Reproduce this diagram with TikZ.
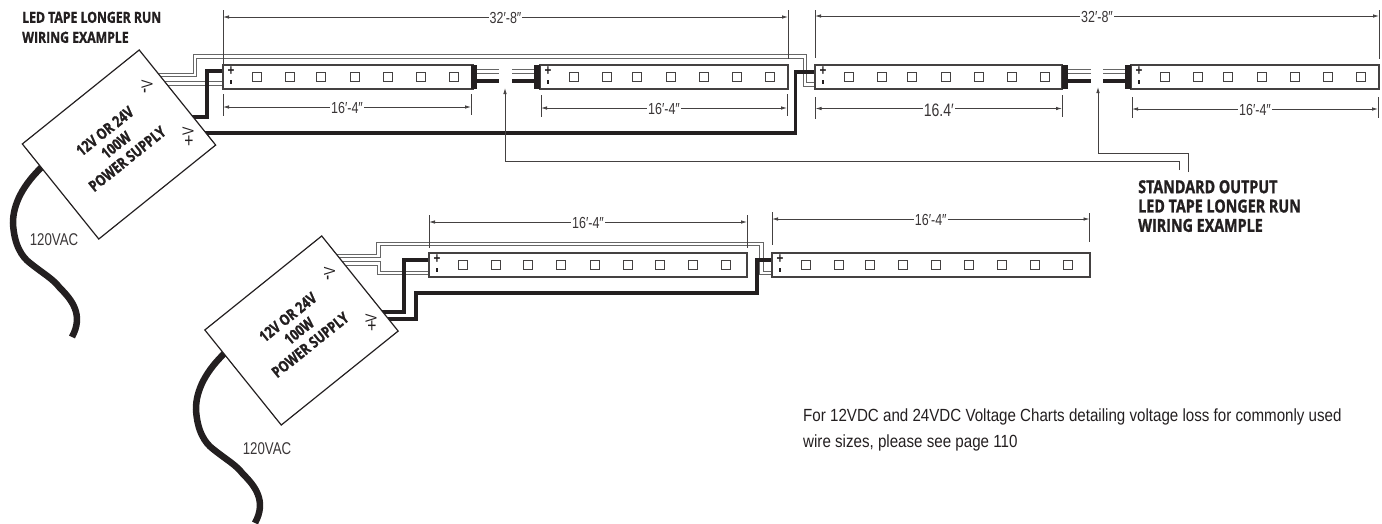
\documentclass[tikz,border=0pt]{standalone}
\usepackage{fontspec}
\usetikzlibrary{arrows.meta,calc}
\newfontfamily\lightf[FakeStretch=0.78]{Liberation Sans}
\newfontfamily\notef[FakeStretch=0.86]{Liberation Sans}
\newfontfamily\headf[FakeStretch=0.8,FakeBold=1.2]{Open Sans}
\definecolor{ink}{HTML}{231F20}
\definecolor{wiregray}{HTML}{666666}
\tikzset{
  x=1pt,y=-1pt,
  strip/.style={draw=ink!85,line width=1.2pt,fill=white,minimum height=24pt,inner sep=0pt,outer sep=0pt},
  led/.style={draw=ink!85,line width=1.1pt,minimum size=9.2pt,inner sep=0pt,outer sep=0pt},
  plusm/.style={font=\lightf\bfseries\fontsize{15}{15}\selectfont,text=ink,inner sep=0pt},
  minusm/.style={draw=none,fill=ink,minimum width=1.4pt,minimum height=3.6pt,inner sep=0pt},
  supply/.style={draw=ink,line width=1.2pt,fill=white,rotate=38.8,minimum width=150pt,minimum height=122pt,inner sep=0pt,outer sep=0pt},
  supplytext/.style={rotate=38.8,align=center,text=ink,inner sep=0pt,font=\headf\bfseries\fontsize{15.4}{17.8}\selectfont},
  blackwire/.style={draw=ink,line width=3.8pt,miter limit=10},
  cable/.style={draw=ink,line width=6.5pt},
  wireout/.style={draw=wiregray,line width=4.4pt},
  wirein/.style={draw=white,line width=2.4pt},
  plug/.style={fill=ink,draw=none,minimum width=6pt,minimum height=24pt,inner sep=0pt,outer sep=0pt},
  dimline/.style={draw=ink!85,line width=0.8pt,{Latex[length=6pt,width=3.5pt]}-{Latex[length=6pt,width=3.5pt]}},
  dimtick/.style={draw=ink!85,line width=0.8pt},
  dimtext/.style={fill=white,inner xsep=1pt,inner ysep=0pt,text=ink!90,font=\lightf\fontsize{16}{16}\selectfont},
  leader/.style={draw=ink!85,line width=0.8pt,-{Latex[length=6pt,width=3.5pt]}},
  headtext/.style={align=left,text=ink,inner sep=0pt,anchor=north west},
  voltv/.style={rotate=90,text=ink,inner sep=0pt,font=\lightf\fontsize{16}{16}\selectfont},
  voltm/.style={text=ink,inner sep=0pt,font=\lightf\fontsize{20}{20}\selectfont},
  vac/.style={text=ink!90,inner sep=0pt,font=\lightf\fontsize{17}{17}\selectfont},
}
\newcommand{\dimrun}[9]{%
  \coordinate (#1a) at (#2,#4);\coordinate (#1b) at (#3,#4);
  \coordinate (#1at) at (#2,#5);\coordinate (#1ab) at (#2,#6);
  \coordinate (#1bt) at (#3,#7);\coordinate (#1bb) at (#3,#8);
  \draw[dimtick] (#1at) -- (#1ab);
  \draw[dimtick] (#1bt) -- (#1bb);
  \draw[dimline] (#1a) -- (#1b);
  \node[dimtext] (#1l) at ($(#1a)!0.5!(#1b)+(0,#9)$)}
\newcommand{\ledrow}[3]{\foreach \lx [count=\li] in {#3} {\node[led] (#1led\li) at (\lx,#2) {};}}
\begin{document}
\begin{tikzpicture}
\path[use as bounding box] (0,0) rectangle (1382,523);

\coordinate (wa0) at (150,75); \coordinate (wa1) at (195,75); \coordinate (wa2) at (195,56.5);
\coordinate (wa3) at (805,56.5); \coordinate (wa4) at (805,84.5); \coordinate (wa5) at (816,84.5);
\coordinate (wb0) at (150,83.5); \coordinate (wb1) at (224,83.5);
\draw[wireout] (wa0) -- (wa1) -- (wa2) -- (wa3) -- (wa4) -- (wa5);
\draw[wirein] (wa0) -- (wa1) -- (wa2) -- (wa3) -- (wa4) -- (wa5);
\draw[wireout] (wb0) -- (wb1);
\draw[wirein] (wb0) -- (wb1);
\coordinate (ba0) at (180,117); \coordinate (ba1) at (207,117); \coordinate (ba2) at (207,71); \coordinate (ba3) at (224,71);
\draw[blackwire] (ba0) -- (ba1) -- (ba2) -- (ba3);
\coordinate (bb0) at (190,133); \coordinate (bb1) at (795.5,133); \coordinate (bb2) at (795.5,72); \coordinate (bb3) at (816,72);
\draw[blackwire] (bb0) -- (bb1) -- (bb2) -- (bb3);

\coordinate (wc0) at (330,256); \coordinate (wc1) at (378.5,256); \coordinate (wc2) at (378.5,244);
\coordinate (wc3) at (761.5,244); \coordinate (wc4) at (761.5,273); \coordinate (wc5) at (773,273);
\coordinate (wd0) at (330,263.5); \coordinate (wd1) at (379,263.5); \coordinate (wd2) at (379,272.7); \coordinate (wd3) at (430,272.7);
\draw[wireout] (wc0) -- (wc1) -- (wc2) -- (wc3) -- (wc4) -- (wc5);
\draw[wirein] (wc0) -- (wc1) -- (wc2) -- (wc3) -- (wc4) -- (wc5);
\draw[wireout] (wd0) -- (wd1) -- (wd2) -- (wd3);
\draw[wirein] (wd0) -- (wd1) -- (wd2) -- (wd3);
\coordinate (bc0) at (370,312); \coordinate (bc1) at (404,312); \coordinate (bc2) at (404,260); \coordinate (bc3) at (430,260);
\draw[blackwire] (bc0) -- (bc1) -- (bc2) -- (bc3);
\coordinate (bd0) at (375,319); \coordinate (bd1) at (416,319); \coordinate (bd2) at (416,293);
\coordinate (bd3) at (757,293); \coordinate (bd4) at (757,260); \coordinate (bd5) at (773,260);
\draw[blackwire] (bd0) -- (bd1) -- (bd2) -- (bd3) -- (bd4) -- (bd5);

\draw[cable] (45,164) .. controls (22,185) and (13,205) .. (13,223) .. controls (14,245) and (22,257) .. (30,263) .. controls (45,275) and (52,278) .. (60,288) .. controls (72,300) and (84,315) .. (72,337);
\begin{scope}
\clip (190,340) rectangle (300,523);
\draw[cable] (228,350) .. controls (205,371) and (196,391) .. (196,409) .. controls (197,431) and (205,443) .. (213,449) .. controls (228,461) and (235,464) .. (243,474) .. controls (255,486) and (267,501) .. (255,523);
\end{scope}

\node[supply] (psu1) at (119,144.5) {};
\node[supply] (psu2) at (301.5,330.5) {};
\node[supplytext] (psu1t) at (116,145) {12V OR 24V\\100W\\POWER SUPPLY};
\node[supplytext] (psu2t) at (299,331) {12V OR 24V\\100W\\POWER SUPPLY};
\node[voltv] (v1a) at (147,84.5) {V};
\node[voltm,rotate=90] (v1b) at (147,91) {-};
\node[voltv] (v1c) at (188,131) {V};
\node[voltm] (v1d) at (189,142) {+};
\node[voltv] (v2a) at (329.5,271) {V};
\node[voltm,rotate=90] (v2b) at (330,278) {-};
\node[voltv] (v2c) at (371,318) {V};
\node[voltm] (v2d) at (372,327) {+};

\node[strip,minimum width=250pt,anchor=west] (s1) at (223,77) {};
\node[strip,minimum width=248pt,anchor=west] (s2) at (540,77) {};
\node[strip,minimum width=247pt,anchor=west] (s3) at (815,77) {};
\node[strip,minimum width=248pt,anchor=west] (s4) at (1131,77) {};
\node[strip,minimum width=318pt,anchor=west] (s5) at (429,265) {};
\node[strip,minimum width=318pt,anchor=west] (s6) at (772,265) {};
\ledrow{s1}{77}{257,290,321,355,388,421,454}
\ledrow{s2}{77}{574,607,637,671,704,737,770}
\ledrow{s3}{77}{849,882,912,946,979,1012,1045}
\ledrow{s4}{77}{1165,1198,1228,1262,1295,1328,1361}
\ledrow{s5}{265}{463,496,528,561,595,628,660,693,726}
\ledrow{s6}{265}{806,839,870,903,936,969,1002,1035,1068}
\foreach \n/\px/\py in {s1/231/77,s2/548/77,s3/823/77,s4/1139/77,s5/437/265,s6/780/265}{
  \node[plusm] (\n plus) at (\px,\py-5.5) {+};
  \node[minusm] (\n minus) at (\px,\py+5) {};
}

\foreach \n/\px in {p1/474,p2/537,p3/1065,p4/1128}{\node[plug] (\n) at (\px,77) {};}
\foreach \n/\xa/\xb in {g1/477/499,g2/512/534,g3/1068/1091,g4/1103/1125}{
  \coordinate (\n a) at (\xa,71.5); \coordinate (\n b) at (\xb,71.5);
  \coordinate (\n c) at (\xa,81); \coordinate (\n d) at (\xb,81);
  \draw[wireout] (\n a) -- (\n b);
  \draw[wirein] (\n a) -- (\n b);
  \draw[draw=ink,line width=3.8pt] (\n c) -- (\n d);
}

\coordinate (la0) at (1179,170); \coordinate (la1) at (1179,161); \coordinate (la2) at (505,161); \coordinate (la3) at (505,88);
\draw[leader] (la0) -- (la1) -- (la2) -- (la3);
\coordinate (lb0) at (1188,172); \coordinate (lb1) at (1188,153); \coordinate (lb2) at (1098,153); \coordinate (lb3) at (1098,87);
\draw[leader] (lb0) -- (lb1) -- (lb2) -- (lb3);

\dimrun{d1}{223}{788}{17}{10}{65}{10}{59}{1} {32\char"2032-8\char"2033};
\dimrun{d2}{815}{1379}{16}{10}{58}{10}{59}{1} {32\char"2032-8\char"2033};
\dimrun{d3}{223}{471}{107}{94}{116}{94}{115}{1} {16\char"2032-4\char"2033};
\dimrun{d4}{541}{787}{108}{95}{117}{94}{116}{1} {16\char"2032-4\char"2033};
\dimrun{d5}{815.5}{1062}{108.5}{97}{119}{95}{117}{2} [font=\lightf\fontsize{18}{18}\selectfont] {16.4\char"2032};
\dimrun{d6}{1132}{1378}{109}{97}{118}{97}{118}{1} {16\char"2032-4\char"2033};
\dimrun{d7}{429}{747}{222}{215}{248}{215}{248}{1} {16\char"2032-4\char"2033};
\dimrun{d8}{772}{1089.5}{219}{212}{245}{213}{242}{1} {16\char"2032-4\char"2033};

\node[headtext,font=\headf\bfseries\fontsize{15.3}{20}\selectfont] (h1) at (22,11.5) {LED TAPE LONGER RUN\\WIRING EXAMPLE};
\node[headtext,font=\headf\bfseries\fontsize{17.9}{19.3}\selectfont] (h2) at (1138,180) {STANDARD OUTPUT\\LED TAPE LONGER RUN\\WIRING EXAMPLE};
\node[vac] (vac1) at (54,240) {120VAC};
\node[vac] (vac2) at (267,449) {120VAC};
\node[headtext,text=ink,font=\notef\fontsize{17.6}{25.5}\selectfont] (note) at (803,409) {For 12VDC and 24VDC Voltage Charts detailing voltage loss for commonly used\\wire sizes, please see page 110};
\end{tikzpicture}
\end{document}
